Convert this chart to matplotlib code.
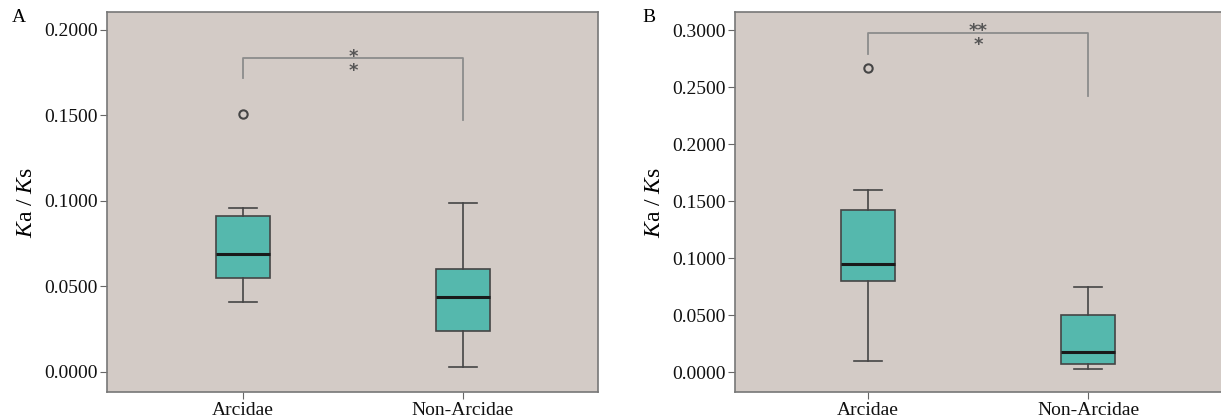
import matplotlib
matplotlib.use("Agg")
import matplotlib.pyplot as plt

# Datos (resumen de cajas)
groups = ["Arcidae", "Non-Arcidae"]

# Panel A
a_low = [0.041, 0.003]
a_q1 = [0.055, 0.024]
a_med = [0.069, 0.044]
a_q3 = [0.091, 0.060]
a_high = [0.096, 0.099]
a_fliers = [[0.151], []]

# Panel B
b_low = [0.010, 0.003]
b_q1 = [0.080, 0.007]
b_med = [0.095, 0.018]
b_q3 = [0.142, 0.050]
b_high = [0.160, 0.075]
b_fliers = [[0.267], []]

a_ticks = [0.0, 0.05, 0.10, 0.15, 0.20]
b_ticks = [0.0, 0.05, 0.10, 0.15, 0.20, 0.25, 0.30]

BG = "#d3cbc6"
BOX = "#55b8ad"
EDGE = "#454545"
BRK = "#8c8c8c"

plt.rcParams.update({"font.family": "Liberation Serif", "font.size": 14,
                     "mathtext.fontset": "custom", "mathtext.it": "Liberation Serif:italic",
                     "mathtext.rm": "Liberation Serif"})

fig = plt.figure(figsize=(12.21, 4.19), dpi=100)
W, H = 1221, 419


def make_ax(x0, x1, y0, y1):
    return fig.add_axes([x0 / W, 1 - y1 / H, (x1 - x0) / W, (y1 - y0) / H])


def stats(low, q1, med, q3, high, fliers):
    return [dict(whislo=low[i], q1=q1[i], med=med[i], q3=q3[i], whishi=high[i],
                 fliers=fliers[i], label=groups[i]) for i in range(len(groups))]


def draw(ax, st, ticks, ylim, xlim):
    ax.set_facecolor(BG)
    ax.bxp(st, positions=[1, 2], widths=0.245, patch_artist=True,
           boxprops=dict(facecolor=BOX, edgecolor=EDGE, lw=1.2),
           medianprops=dict(color="#1a1a1a", lw=2.2),
           whiskerprops=dict(color=EDGE, lw=1.2),
           capprops=dict(color=EDGE, lw=1.2), capwidths=0.13,
           flierprops=dict(marker="o", mfc="none", mec=EDGE, ms=6, mew=1.5))
    ax.set_xlim(*xlim)
    ax.set_ylim(*ylim)
    ax.set_yticks(ticks)
    ax.set_yticklabels([f"{t:.4f}" for t in ticks])
    ax.set_xticks([1, 2])
    ax.set_xticklabels(groups)
    ax.tick_params(axis="both", direction="out", color="#666666", length=5,
                   labelsize=14, labelcolor="#111111")
    ax.tick_params(axis="y", pad=1.5)
    ax.tick_params(axis="x", pad=2)
    for sp in ax.spines.values():
        sp.set_edgecolor("#777777")
        sp.set_linewidth(1.2)
    ax.set_ylabel(r"$K$a / $K$s", fontsize=17, labelpad=5)


def bracket(ax, yl, yr, ytop, stars, star_y):
    ax.plot([1, 1, 2, 2], [yl, ytop, ytop, yr], color=BRK, lw=1.3)
    # asteriscos apilados en un solo texto
    ax.text(1.5, star_y, stars, ha="center", va="center", fontsize=13,
            family="DejaVu Sans", fontweight="bold", color="#555555",
            linespacing=0.75)


# Panel A
axA = make_ax(107, 598, 12, 392)
draw(axA, stats(a_low, a_q1, a_med, a_q3, a_high, a_fliers), a_ticks,
     (-0.0117, 0.2105), (0.382, 2.614))
bracket(axA, 0.1719, 0.1474, 0.1836, "*\n*", 0.1800)
fig.text(12 / W, 1 - 18 / H, "A", fontsize=14, va="center", ha="left")

# Panel B
axB = make_ax(735, 1226, 12, 392)
draw(axB, stats(b_low, b_q1, b_med, b_q3, b_high, b_fliers), b_ticks,
     (-0.0175, 0.3158), (0.395, 2.627))
bracket(axB, 0.279, 0.242, 0.2974, "**\n*", 0.2930)
fig.text(642 / W, 1 - 18 / H, "B", fontsize=14, va="center", ha="left")

fig.savefig("out.png", dpi=100, facecolor="white")
